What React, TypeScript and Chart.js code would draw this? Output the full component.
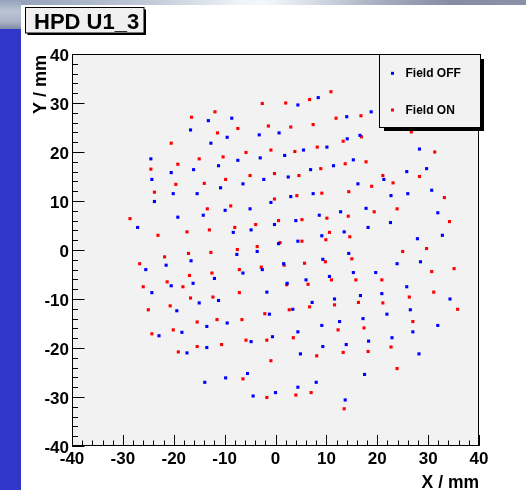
import React, { useEffect, useRef } from 'react';
import { Chart, registerables } from 'chart.js';

Chart.register(...registerables);

const W = 526;
const H = 490;
const FONT = '"Liberation Sans", Arial, Helvetica, sans-serif';

const chartTitle = 'HPD U1_3';
const xTitle = 'X / mm';
const yTitle = 'Y / mm';
const axisMin = -40;
const axisMax = 40;
const majorStep = 10;
const minorStep = 2;

const seriesLabels = ['Field OFF', 'Field ON'];
const seriesColors = ['#0000ff', '#ff0000'];

const fieldOffX = [
  -13.2, -8.6, -16.7, -9.5, -3.2, 0.7, -12.7, -24.5, -7.4, -3.0, -11.2, -16.1, -20.5, -2.3, -24.3,
  -6.4, -10.8, -20.1, -15.4, -23.8, -0.9, -9.9, -5.0, -27.1, -19.2, -14.2, -0.2, -8.3, -4.8, 0.6,
  8.4, 4.4, 18.8, 14.0, 14.1, 16.6, 28.3, 10.1, 5.5, 1.8, 15.3, 11.4, 6.9, 29.7, 25.8,
  21.3, 2.5, 16.2, 30.7, 22.7, 26.0, 7.4, 3.0, 12.8, 17.8, 8.6, 31.9, 4.0, 22.6, 18.2,
  9.1, 13.5, 27.9, 32.8, 4.4,
  -7.6, -3.6, -16.6, -21.5, -25.5, -2.6, -6.4, -12.0, -16.2, -20.5, -1.7, -24.3, -11.2, -15.0, -19.4,
  -1.2, -9.5, -13.5, -18.4, -22.9, -0.6, -4.8, -13.5, -17.4, -5.5, -9.8, -13.9, 0.0, -4.4,
  14.4, 1.6, 9.3, 23.9, 28.5, 15.3, 19.7, 10.6, 6.0, 2.3, 25.8, 20.9, 16.7, 7.2, 11.6,
  34.3, 26.5, 3.4, 12.6, 17.2, 9.1, 21.9, 31.9, 27.0, 4.4, 18.3, 22.9, 13.9, 9.3, 4.9,
  28.2, 17.5, 8.0, 4.4, 13.7,
];
const fieldOffY = [
  26.4, 26.9, 24.5, 23.0, 23.5, 23.9, 21.8, 18.6, 18.3, 18.8, 17.2, 16.4, 15.8, 14.4, 14.4,
  13.5, 12.7, 11.5, 11.5, 9.9, 9.7, 8.1, 8.4, 4.6, 6.7, 7.1, 5.2, 3.6, 4.1, 1.3,
  31.1, 29.6, 28.2, 27.2, 22.7, 23.4, 20.6, 21.0, 20.4, 19.3, 18.4, 17.2, 16.4, 16.6, 16.0,
  14.4, 14.9, 13.5, 12.2, 11.1, 11.5, 11.5, 10.9, 7.8, 8.5, 7.1, 7.6, 6.0, 5.6, 4.6,
  2.9, 3.7, 2.3, 3.0, 1.8,
  -0.9, -0.3, -2.2, -3.1, -4.0, -4.0, -4.7, -5.8, -6.8, -7.3, -8.6, -8.7, -10.3, -10.8, -12.4,
  -13.1, -14.9, -15.6, -16.8, -17.5, -17.7, -18.7, -19.9, -21.0, -25.2, -26.1, -27.0, -29.1, -29.8,
  -0.7, -2.8, -1.9, -2.8, -2.4, -4.6, -4.6, -5.4, -6.1, -6.8, -7.5, -8.9, -9.3, -10.7, -10.0,
  -10.0, -12.2, -12.1, -14.6, -14.0, -15.4, -13.1, -15.4, -16.7, -16.7, -18.6, -17.9, -19.3, -19.7, -21.2,
  -21.2, -25.4, -27.0, -28.0, -30.6,
];

const fieldOnX = [
  -2.6, -11.9, -16.5, -1.4, -11.4, -7.4, -20.5, -0.9, -5.8, -15.0, -10.3, -24.5, -19.2, -0.2, -5.0,
  -9.8, -19.6, -14.0, -23.8, -0.2, -13.4, -8.8, 0.6, -28.6, -3.9, -23.1, -17.4, -13.0, -8.0, -7.5, -3.6,
  10.9, 6.7, 2.0, 16.8, 11.9, 7.4, 3.0, 26.7, 16.9, 13.3, 31.3, 8.2, 3.8, 17.8, 13.7,
  8.9, 28.3, 21.1, 4.6, 23.1, 18.9, 14.4, 33.2, 9.1, 4.2, 19.4, 23.9, 14.3, 10.1, 34.2,
  5.2, 10.6, 9.9, 14.6, 29.7, 5.2, 0.9,
  -12.7, -17.1, -21.8, -26.7, -7.1, -2.8, -12.5, -16.9, -21.3, -26.0, -18.2, -7.1, -16.7, -12.3, -20.7,
  -25.0, -2.1, -6.6, -11.5, -15.4, -20.1, -24.3, -5.8, -1.7, -10.6, -15.4, -19.1, -0.9, -6.4, -1.7,
  25.0, 15.0, 1.7, 5.7, 9.8, 35.1, 30.7, 20.9, 15.8, 11.0, 6.4, 2.2, 31.1, 26.3, 16.3,
  21.1, 6.7, 11.6, 35.8, 2.7, 27.0, 17.4, 12.3, 3.5, 18.2, 22.7, 13.3, 8.1, 23.9, 7.0,
  4.0, 13.5,
];
const fieldOnY = [
  29.9, 28.2, 27.1, 25.3, 23.9, 24.8, 21.8, 20.4, 19.9, 18.6, 19.0, 16.5, 17.5, 15.6, 15.2,
  14.4, 13.4, 13.6, 11.8, 10.4, 8.4, 9.0, 6.0, 6.4, 5.2, 3.0, 3.7, 4.1, 4.6, 0.1, 0.7,
  32.3, 30.7, 30.0, 27.4, 26.9, 25.6, 25.1, 24.1, 23.1, 22.2, 20.0, 21.0, 20.1, 18.0, 17.6,
  16.6, 15.0, 15.2, 15.2, 13.7, 13.0, 11.9, 10.7, 11.6, 11.1, 7.8, 8.4, 6.9, 6.5, 5.8,
  6.2, 3.6, 2.1, 2.7, 0.3, 1.8, 1.5,
  -0.5, -0.7, -1.4, -2.8, -4.0, -3.5, -4.7, -5.2, -6.5, -7.5, -7.5, -8.7, -9.8, -9.6, -11.4,
  -12.2, -13.0, -14.2, -14.2, -14.7, -16.3, -17.1, -18.4, -18.4, -19.3, -19.7, -20.8, -22.6, -26.3, -30.1,
  -0.3, -1.8, -3.1, -2.7, -2.4, -3.8, -4.4, -6.1, -6.1, -6.1, -7.0, -7.1, -8.6, -9.6, -10.7,
  -10.8, -11.6, -11.2, -12.1, -12.2, -14.6, -15.9, -16.3, -17.9, -20.7, -19.8, -20.9, -21.6, -24.2, -29.1,
  -29.6, -32.4,
];

const toPoints = (xs: number[], ys: number[]) =>
  xs.map((x, i) => ({ x, y: ys[i] }));

const rootPlugin = {
  id: 'rootStyle',
  beforeDraw(chart: any) {
    const { ctx, chartArea: a } = chart;
    ctx.save();
    ctx.fillStyle = '#ffffff';
    ctx.fillRect(0, 0, W, H);
    // top photographic strip
    const g = ctx.createLinearGradient(0, 0, W, 0);
    g.addColorStop(0, '#8f9cb6');
    g.addColorStop(0.15, '#a9b4c8');
    g.addColorStop(0.3, '#c5cdda');
    g.addColorStop(0.45, '#eef2f6');
    g.addColorStop(0.5, '#f6f9fb');
    g.addColorStop(0.6, '#d4dae4');
    g.addColorStop(0.72, '#a6aec0');
    g.addColorStop(0.86, '#858ca4');
    g.addColorStop(1, '#8a92a8');
    ctx.fillStyle = g;
    ctx.fillRect(0, 0, W, 5);
    // left column
    const g2 = ctx.createLinearGradient(0, 0, 0, 29);
    g2.addColorStop(0, '#95a2ba');
    g2.addColorStop(0.4, '#bcc5d4');
    g2.addColorStop(0.75, '#a9b3c6');
    g2.addColorStop(1, '#7f8aa6');
    ctx.fillStyle = g2;
    ctx.fillRect(0, 0, 21, 29);
    ctx.fillStyle = '#3036c8';
    ctx.fillRect(0, 29, 21, H - 29);
    // frame fill
    ctx.fillStyle = '#f2f2f2';
    ctx.fillRect(a.left, a.top, a.right - a.left, a.bottom - a.top);
    ctx.restore();
  },
  afterDatasetsDraw(chart: any) {
    const { ctx, chartArea: a } = chart;
    const xs = chart.scales.x;
    const ys = chart.scales.y;
    ctx.save();
    ctx.strokeStyle = '#000';
    ctx.lineWidth = 1;
    ctx.strokeRect(a.left + 0.5, a.top + 0.5, a.right - a.left - 1, a.bottom - a.top - 1);
    ctx.beginPath();
    for (let v = axisMin; v <= axisMax + 1e-9; v += minorStep) {
      const major = Math.abs(v % majorStep) < 1e-9;
      const px = Math.round(xs.getPixelForValue(v)) + 0.5;
      ctx.moveTo(px, a.bottom);
      ctx.lineTo(px, a.bottom - (major ? 11 : 5.5));
      const py = Math.round(ys.getPixelForValue(v)) + 0.5;
      ctx.moveTo(a.left, py);
      ctx.lineTo(a.left + (major ? 12.5 : 6), py);
    }
    ctx.stroke();
    ctx.restore();
  },
  afterDraw(chart: any) {
    const { ctx } = chart;
    ctx.save();
    // title box
    ctx.fillStyle = '#000';
    ctx.fillRect(27.5, 9.5, 118.5, 25.5);
    ctx.fillStyle = '#f0f0f0';
    ctx.fillRect(25.5, 7.5, 118.5, 25.5);
    ctx.strokeStyle = '#000';
    ctx.lineWidth = 1;
    ctx.strokeRect(25.5, 7.5, 118.5, 25.5);
    ctx.fillStyle = '#000';
    ctx.font = `bold 22px ${FONT}`;
    ctx.textAlign = 'left';
    ctx.textBaseline = 'alphabetic';
    ctx.fillText(chartTitle, 34, 29.3);

    // axis titles
    ctx.font = `bold 18px ${FONT}`;
    ctx.save();
    ctx.translate(46, 55);
    ctx.rotate(-Math.PI / 2);
    ctx.textAlign = 'right';
    ctx.fillText(yTitle, 0, 0);
    ctx.restore();
    ctx.font = `bold 17.5px ${FONT}`;
    ctx.textAlign = 'right';
    ctx.fillText(xTitle, 479, 488);

    // legend
    ctx.fillStyle = '#000';
    ctx.fillRect(384, 59, 100, 72);
    ctx.fillStyle = '#f2f2f2';
    ctx.fillRect(379.5, 54.5, 101, 73);
    ctx.strokeRect(379.5, 54.5, 101, 73);
    const rows = [73.3, 110];
    ctx.font = `bold 12px ${FONT}`;
    ctx.textAlign = 'left';
    ctx.textBaseline = 'middle';
    rows.forEach((ry, i) => {
      ctx.fillStyle = seriesColors[i];
      ctx.fillRect(391, ry - 1.5, 3, 3);
      ctx.fillStyle = '#000';
      ctx.fillText(seriesLabels[i], 405.5, ry + 0.5);
    });
    ctx.restore();
  },
};

export default function App() {
  const ref = useRef<HTMLCanvasElement>(null);
  useEffect(() => {
    if (!ref.current) return;
    const tickFont = { family: FONT, size: 17, weight: 'bold' as const };
    const chart = new Chart(ref.current, {
      type: 'scatter',
      data: {
        datasets: [
          {
            label: seriesLabels[0],
            data: toPoints(fieldOffX, fieldOffY),
            backgroundColor: seriesColors[0],
            borderColor: seriesColors[0],
            borderWidth: 0,
            pointStyle: 'rect',
            pointRadius: 2.2,
          },
          {
            label: seriesLabels[1],
            data: toPoints(fieldOnX, fieldOnY),
            backgroundColor: seriesColors[1],
            borderColor: seriesColors[1],
            borderWidth: 0,
            pointStyle: 'rect',
            pointRadius: 2.2,
          },
        ],
      },
      options: {
        animation: false,
        responsive: false,
        devicePixelRatio: 1,
        events: [],
        layout: { padding: { left: 0, top: 54, right: 47, bottom: 0 } },
        plugins: {
          legend: { display: false },
          tooltip: { enabled: false },
          title: { display: false },
        },
        scales: {
          x: {
            type: 'linear',
            min: axisMin,
            max: axisMax,
            grid: { display: false, drawTicks: false },
            border: { display: false },
            ticks: {
              stepSize: majorStep,
              color: '#000',
              font: tickFont,
              padding: 3,
              maxRotation: 0,
              autoSkip: false,
            },
            afterFit: (s: any) => {
              s.height = 44;
            },
          },
          y: {
            type: 'linear',
            min: axisMin,
            max: axisMax,
            grid: { display: false, drawTicks: false },
            border: { display: false },
            ticks: {
              stepSize: majorStep,
              color: '#000',
              font: tickFont,
              padding: 3,
              autoSkip: false,
              labelOffset: 2,
            },
            afterFit: (s: any) => {
              s.width = 72;
            },
          },
        },
      },
      plugins: [rootPlugin],
    });
    return () => chart.destroy();
  }, []);
  return (
    <div style={{ position: 'fixed', left: 0, top: 0, width: W, height: H }}>
      <canvas ref={ref} width={W} height={H} style={{ display: 'block' }} />
    </div>
  );
}
